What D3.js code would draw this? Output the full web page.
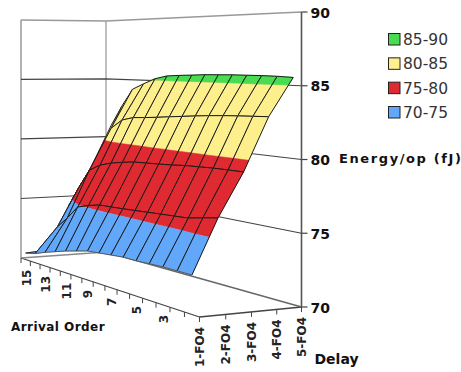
<!DOCTYPE html>
<html><head><meta charset="utf-8">
<script src="https://cdn.jsdelivr.net/npm/d3@7"></script>
<style>html,body{margin:0;padding:0;background:#fff}svg{display:block}
text{font-family:"DejaVu Sans",sans-serif}</style></head>
<body><div id="c"></div>
<script>
const arrivalOrder = [1,2,3,4,5,6,7,8,9,10,11,12,13,14,15];
const arrivalLabels = [3,5,7,9,11,13,15];
const delayLabels = ["1-FO4","2-FO4","3-FO4","4-FO4","5-FO4"];
const zTicks = [70,75,80,85,90];
const delay1 = [72.6,72.6,72.6,72.55,72.5,72.5,72.4,72.3,72.2,71.95,71.7,71.4,71.1,70.75,70.54];
const delay2 = [76.25,76.05,75.83,75.76,75.7,75.63,75.56,75.5,75.44,75.4,75.17,74.86,73.78,72.82,70.67];
const delay3 = [79.23,79.22,79.2,79.15,79.1,79.0,78.93,78.87,78.81,78.65,78.45,78.15,77.6,76.04,74.36];
const delay4 = [82.9,82.85,82.8,82.74,82.66,82.56,82.45,82.34,82.22,82.12,82.04,81.76,81.0,78.9,77.33];
const delay5 = [85.55,85.6,85.62,85.62,85.62,85.6,85.58,85.52,85.47,85.4,85.15,84.7,84.2,82.7,81.0];
const surface = [delay1,delay2,delay3,delay4,delay5];
const bandNames = ["85-90","80-85","75-80","70-75"];
const bandLows = [85,80,75,70];
const bandColors = ["#48dc50","#fdf08c","#e02a32","#62a8fa"];

const W=461,H=372;
const svg=d3.select("#c").append("svg").attr("width",W).attr("height",H);

// Projective view of the chart box: four floor corners and depth weights.
const cF=[199.5,317], cL=[21,258], cR=[301.5,307], cB=[106,252];
const wF=.01304, wL=.0168, wR=.01356, wB=.01732;
const uScale=d3.scaleLinear().domain([0.5,15.5]).range([0,1]);
const vScale=d3.scaleLinear().domain([0,4]).range([0,1]);
const zScale=d3.scaleLinear().domain([70,75]).range([0,1]);
function proj(u,v,z){
  const bF=(1-u)*(1-v)*wF,bL=u*(1-v)*wL,bR=(1-u)*v*wR,bB=u*v*wB,w=bF+bL+bR+bB;
  const x=(bF*cF[0]+bL*cL[0]+bR*cR[0]+bB*cB[0])/w;
  const y=(bF*cF[1]+bL*cL[1]+bR*cR[1]+bB*cB[1])/w;
  return [x,y-zScale(z)/w];
}
const P=(a,d,z)=>proj(uScale(a),vScale(d),z);
const line=d3.line();
function path(pts,stroke,sw,parent){
  (parent||svg).append("path").attr("d",line(pts)).attr("fill","none")
    .attr("stroke",stroke).attr("stroke-width",sw).attr("stroke-linejoin","round");
}
// walls
const wallG="#aaaaaa";
path([proj(1,0,70),proj(1,0,90)],wallG,1.8);
path([proj(1,1,70),proj(1,1,90)],wallG,1.5);
path([proj(1,0,90),proj(1,1,90),proj(0,1,90)],"#999",1.5);
zTicks.slice(1,4).forEach(z=>{
  path([proj(1,0,z),proj(1,1,z),proj(0,1,z)],"#444",1.2);
});
// floor
path([proj(1,0,70),proj(0,0,70),proj(0,1,70)],"#444",1.3);
path([proj(1,0,70),proj(1,1,70)],"#888",1.3);
path([proj(1,1,70),proj(0,1,70)],"#666",1.3);
path([proj(0,1,70),proj(0,1,90)],"#555",1.6);

// surface
function clip(poly,test,edge){
  const out=[];
  poly.forEach((p,i)=>{
    const q=poly[(i+1)%poly.length],pi=test(p),qi=test(q);
    if(pi) out.push(p);
    if(pi!==qi){const t=(edge-p[2])/(q[2]-p[2]);
      out.push([p[0]+t*(q[0]-p[0]),p[1]+t*(q[1]-p[1]),edge]);}
  });
  return out;
}
const g=svg.append("g");
for(let ai=arrivalOrder.length-2;ai>=0;ai--){
  for(let d=3;d>=0;d--){
    const a0=arrivalOrder[ai],a1=arrivalOrder[ai+1];
    const quad=[[a0,d,surface[d][ai]],[a1,d,surface[d][ai+1]],[a1,d+1,surface[d+1][ai+1]],[a0,d+1,surface[d+1][ai]]];
    bandLows.forEach((lo,bi)=>{
      let poly=clip(quad,p=>p[2]>=lo,lo);
      if(poly.length) poly=clip(poly,p=>p[2]<=lo+5,lo+5);
      if(poly.length>2){
        g.append("path").attr("d",line(poly.map(p=>P(p[0],p[1],p[2])))+"Z")
         .attr("fill",bandColors[bi]).attr("stroke",bandColors[bi]).attr("stroke-width",.5);
      }
    });
    const q=quad.map(p=>P(p[0],p[1],p[2]));
    path([q[0],q[3]],"#1a1a1a",1,g);
    path([q[1],q[2]],"#1a1a1a",1,g);
    path([q[2],q[3]],"#1a1a1a",1,g);
    path([q[0],q[1]],d===0?"#555":"#1a1a1a",1,g);
  }
}

// ticks and labels
const tick="#444";
arrivalOrder.concat([16]).forEach(a=>{
  const p=P(a-.5,0,70);
  path([p,[p[0],p[1]+5]],tick,1);
});
arrivalLabels.forEach(a=>{
  const p=P(a,0,70);
  svg.append("text").attr("transform",`translate(${p[0]+5},${p[1]+10}) rotate(-90)`)
    .attr("text-anchor","end").attr("font-size",12).attr("font-weight","bold").attr("fill","#222").text(a);
});
delayLabels.forEach((s,i)=>{
  const p=P(.5,i,70);
  path([p,[p[0],p[1]+5]],tick,1);
  svg.append("text").attr("transform",`translate(${p[0]+4.5},${p[1]+10}) rotate(-90)`)
    .attr("text-anchor","end").attr("font-size",12).attr("font-weight","bold").attr("fill","#222").text(s);
});
zTicks.forEach(z=>{
  const p=proj(0,1,z);
  path([p,[p[0]+6,p[1]]],tick,1.2);
  svg.append("text").attr("x",p[0]+9).attr("y",p[1]+5.5)
    .attr("font-size",14).attr("font-weight","bold").attr("fill","#111").text(z);
});
svg.append("text").attr("x",339).attr("y",163).attr("font-size",13).attr("font-weight","bold")
  .attr("letter-spacing",1.6).attr("fill","#111").text("Energy/op (fJ)");
svg.append("text").attr("x",11).attr("y",331).attr("font-size",12).attr("font-weight","bold")
  .attr("letter-spacing",.45).attr("fill","#111").text("Arrival Order");
svg.append("text").attr("x",314.5).attr("y",364).attr("font-size",14).attr("font-weight","bold")
  .attr("fill","#111").text("Delay");
// legend
const legY=d3.scalePoint().domain(bandNames).range([33.5,106.5]);
bandNames.forEach((n,i)=>{
  svg.append("rect").attr("x",388.5).attr("y",legY(n)).attr("width",11.5).attr("height",11.5)
    .attr("fill",bandColors[i]).attr("stroke","#222").attr("stroke-width",1);
  svg.append("text").attr("x",403).attr("y",legY(n)+11.5).attr("font-size",15.5).attr("fill","#333").text(n);
});
</script></body></html>
